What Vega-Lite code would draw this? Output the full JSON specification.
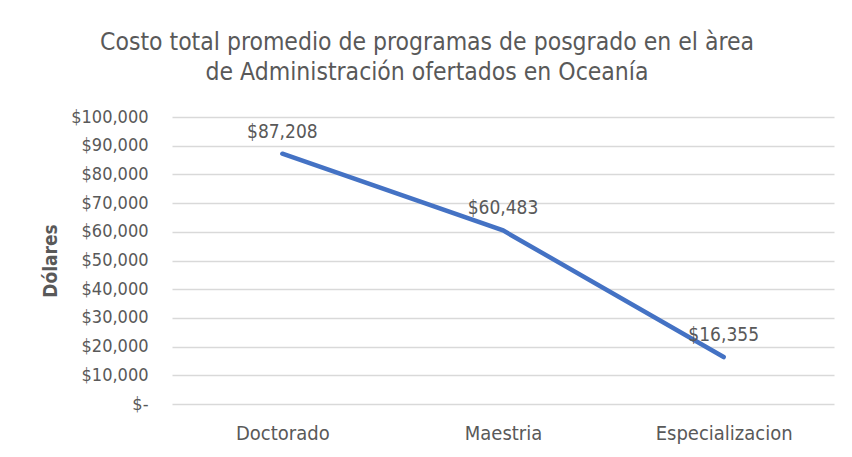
{
  "$schema": "https://vega.github.io/schema/vega-lite/v6.json",
  "autosize": {"type": "none"},
  "width": 662,
  "height": 287,
  "padding": {"left": 172, "top": 117, "right": 18, "bottom": 53},
  "background": "white",
  "title": {
    "text": ["Costo total promedio de programas de posgrado en  el àrea", "de Administración ofertados en Oceanía"],
    "font": "'DejaVu Sans Condensed', sans-serif",
    "fontSize": 24.5,
    "fontWeight": "normal",
    "color": "#595959",
    "anchor": "middle",
    "frame": "group",
    "dx": -76,
    "offset": 23,
    "lineHeight": 30
  },
  "config": {
    "view": {"stroke": null},
    "font": "'DejaVu Sans Condensed', sans-serif"
  },
  "data": {
    "values": [
      {"programa": "Doctorado", "costo": 87208},
      {"programa": "Maestria", "costo": 60483},
      {"programa": "Especializacion", "costo": 16355}
    ]
  },
  "encoding": {
    "x": {
      "field": "programa",
      "type": "nominal",
      "sort": null,
      "scale": {"type": "point", "padding": 0.5},
      "axis": {
        "title": null,
        "labelAngle": 0,
        "labelFont": "'DejaVu Sans Condensed', sans-serif",
        "labelFontSize": 20,
        "labelColor": "#595959",
        "labelPadding": 19,
        "ticks": false,
        "domain": false,
        "grid": false
      }
    },
    "y": {
      "field": "costo",
      "type": "quantitative",
      "scale": {"domain": [0, 100000], "nice": false},
      "axis": {
        "title": "Dólares",
        "titleFont": "'DejaVu Sans Condensed', sans-serif",
        "titleFontSize": 19,
        "titleFontWeight": "bold",
        "titleColor": "#595959",
        "titlePadding": 10,
        "values": [0, 10000, 20000, 30000, 40000, 50000, 60000, 70000, 80000, 90000, 100000],
        "labelExpr": "datum.value == 0 ? '$-' : '$' + format(datum.value, ',')",
        "labelFont": "'DejaVu Sans Condensed', sans-serif",
        "labelFontSize": 18,
        "labelColor": "#595959",
        "labelPadding": 24,
        "ticks": false,
        "domain": false,
        "grid": true,
        "gridColor": "#d9d9d9",
        "gridWidth": 1.5
      }
    }
  },
  "layer": [
    {
      "mark": {"type": "line", "color": "#4472C4", "strokeWidth": 4.5, "strokeCap": "round"}
    },
    {
      "mark": {"type": "text", "baseline": "alphabetic", "dy": -16, "font": "'DejaVu Sans Condensed', sans-serif", "fontSize": 19, "color": "#595959"},
      "encoding": {
        "text": {"field": "costo", "type": "quantitative", "format": "$,.0f"}
      }
    }
  ]
}
